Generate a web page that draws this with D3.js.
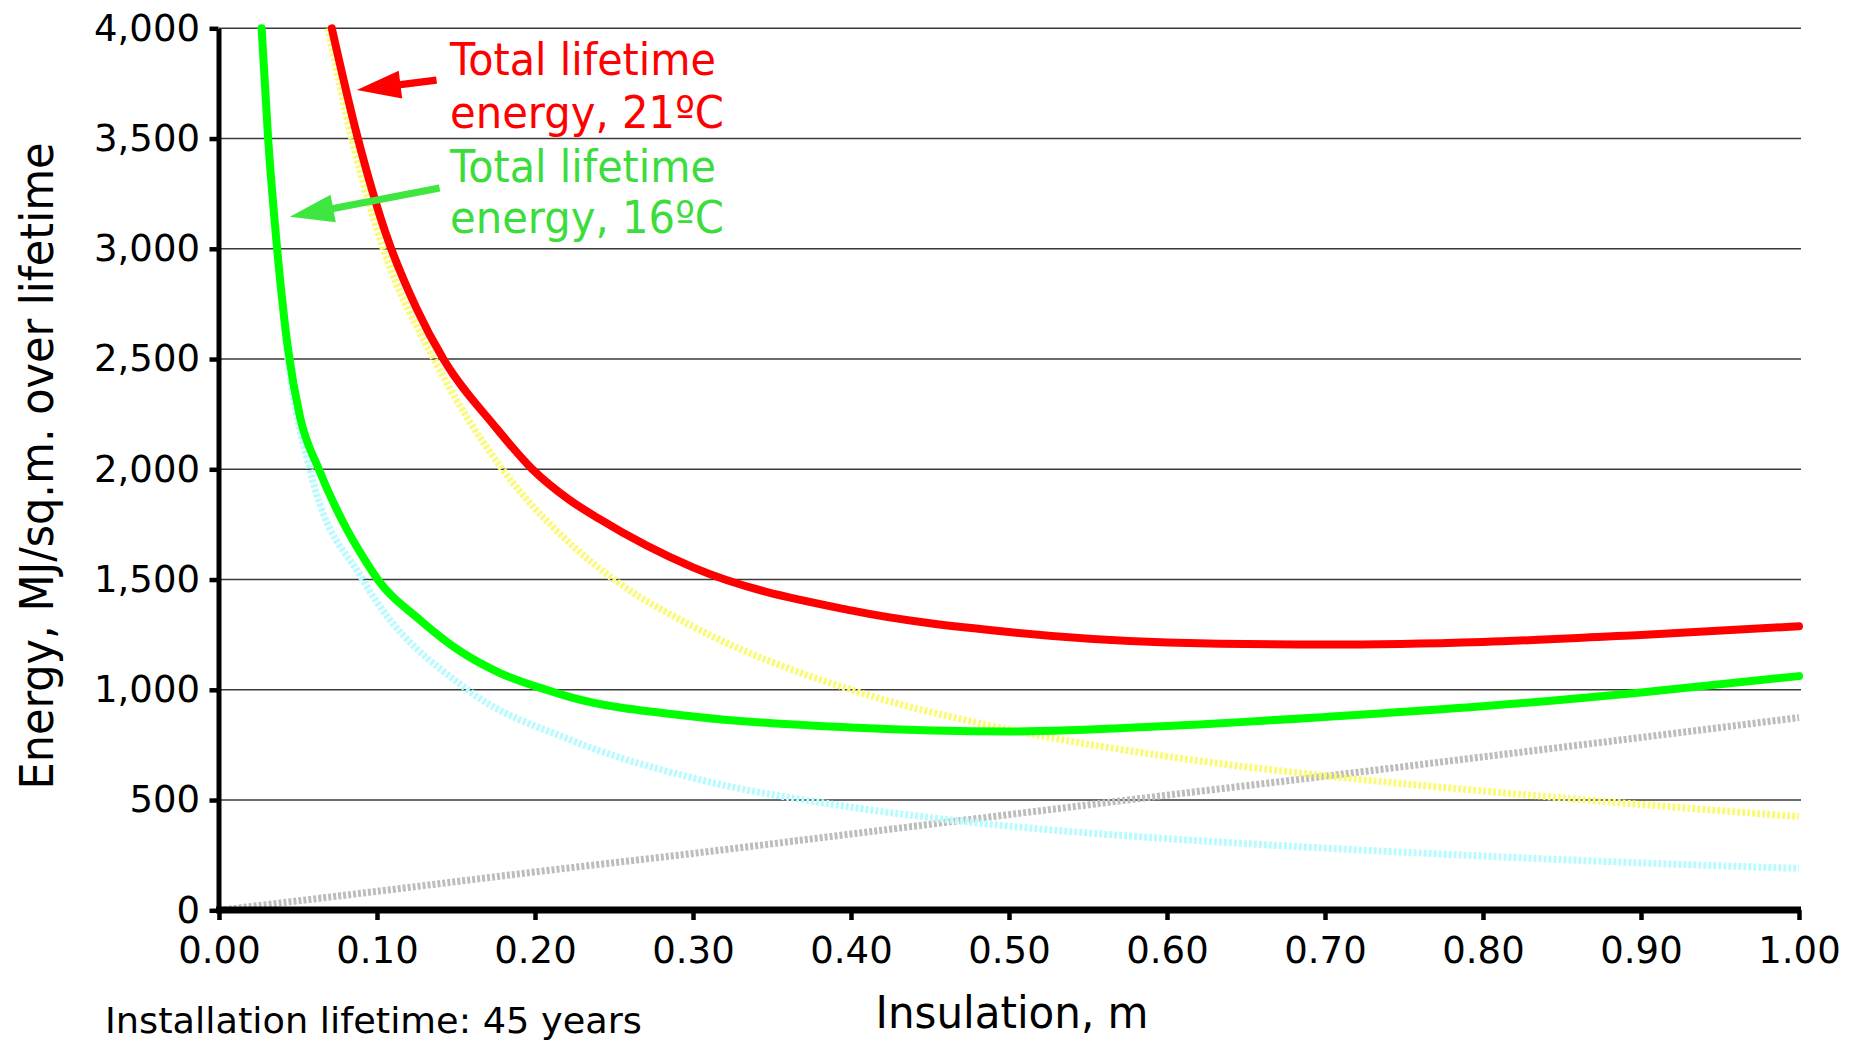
<!DOCTYPE html>
<html>
<head>
<meta charset="utf-8">
<title>Lifetime energy vs insulation thickness</title>
<style>
  body { margin: 0; padding: 0; background: #fff; }
  svg text { font-family: "DejaVu Sans", Verdana, sans-serif; }
</style>
</head>
<body>
<svg id="chart" width="1863" height="1042"></svg>
<script src="https://cdnjs.cloudflare.com/ajax/libs/d3/7.8.5/d3.min.js"></script>
<script>

// ticks
var xTickValues = [0, 0.1, 0.2, 0.3, 0.4, 0.5, 0.6, 0.7, 0.8, 0.9, 1.0];
var yTickValues = [0, 500, 1000, 1500, 2000, 2500, 3000, 3500, 4000];

// embodied energy of the insulation (grey dotted)
var grayX = [0, 0.1, 0.2, 0.3, 0.4, 0.5, 0.6, 0.7, 0.8, 0.9, 1.0];
var grayY = [0, 86, 174, 258, 346, 434, 522, 608, 696, 784, 874];

// heating energy at 16ºC (cyan dotted)
var cyanX = [0.0265, 0.031, 0.037, 0.044, 0.0575, 0.091, 0.1573, 0.2217, 0.3, 0.4, 0.5, 0.6, 0.7, 0.8, 0.9, 1.0];
var cyanY = [4000, 3475, 2970, 2480, 2000, 1500, 1000, 775, 600, 468, 382, 325, 282, 246, 215, 190];

// heating energy at 21ºC (yellow dotted)
var yellowX = [0.069, 0.084, 0.104, 0.136, 0.1794, 0.2217, 0.25, 0.3, 0.4, 0.5, 0.6, 0.7, 0.8, 0.9, 1.0];
var yellowY = [4000, 3500, 3000, 2500, 2000, 1667, 1500, 1287, 1000, 820, 698, 610, 541, 480, 425];

// total lifetime energy, 21ºC (red)
var redX = [0.0714, 0.0872, 0.106, 0.125, 0.142, 0.174, 0.1984, 0.2217, 0.2407, 0.3, 0.4, 0.5, 0.6, 0.7, 0.8, 0.9, 1.0];
var redY = [4000, 3520, 3060, 2730, 2500, 2200, 2000, 1862, 1775, 1555, 1360, 1262, 1215, 1205, 1217, 1249, 1288];

// total lifetime energy, 16ºC (green)
var greenX = [0.027, 0.0311, 0.0368, 0.0438, 0.0512, 0.0632, 0.0784, 0.0922, 0.1005, 0.127, 0.1543, 0.1775, 0.2071, 0.2217, 0.3, 0.4, 0.5, 0.6, 0.7, 0.8, 0.9, 1.0];
var greenY = [4000, 3500, 3000, 2540, 2240, 2000, 1762, 1590, 1500, 1318, 1167, 1077, 1000, 968, 879, 829, 811, 836, 877, 925, 988, 1062];

var svg = d3.select("#chart");

var x = d3.scaleLinear().domain([0, 1]).range([219, 1799]);
var y = d3.scaleLinear().domain([0, 4000]).range([910.3, 28.3]);

// horizontal grid
svg.append("g").selectAll("line")
    .data(yTickValues.filter(function(d) { return d > 0; }))
    .enter().append("line")
    .attr("x1", x(0)).attr("x2", x(1) + 2)
    .attr("y1", function(d) { return y(d); })
    .attr("y2", function(d) { return y(d); })
    .style("stroke", "#3a3a3a")
    .style("stroke-width", 1.6);

function zip(xs, ys) {
    return xs.map(function(v, i) { return [v, ys[i]]; });
}

var line = d3.line()
    .x(function(d) { return x(d[0]); })
    .y(function(d) { return y(d[1]); })
    .curve(d3.curveMonotoneX);

var series = [
    { pts: zip(grayX, grayY),     color: "#bdbdbd", width: 7, dash: "3,2" },
    { pts: zip(cyanX, cyanY),     color: "#b8fbff", width: 7, dash: "3,2" },
    { pts: zip(yellowX, yellowY), color: "#fafa7a", width: 7, dash: "3,2" },
    { pts: zip(redX, redY),       color: "#ff0000", width: 8, dash: null },
    { pts: zip(greenX, greenY),   color: "#00ff00", width: 8, dash: null }
];

svg.append("g").selectAll("path")
    .data(series)
    .enter().append("path")
    .attr("d", function(d) { return line(d.pts); })
    .style("fill", "none")
    .style("stroke", function(d) { return d.color; })
    .style("stroke-width", function(d) { return d.width; })
    .style("stroke-linecap", function(d) { return d.dash ? "butt" : "round"; })
    .style("stroke-dasharray", function(d) { return d.dash; });

// axes
var yAxis = d3.axisLeft(y)
    .tickValues(yTickValues)
    .tickFormat(d3.format(","))
    .tickSizeInner(9)
    .tickSizeOuter(0)
    .tickPadding(9.5);

var gy = svg.append("g")
    .attr("transform", "translate(218.5,0)")
    .call(yAxis);
gy.select(".domain").style("stroke", "#000").style("stroke-width", 5);
gy.selectAll(".tick line").style("stroke", "#000").style("stroke-width", 4.5);
gy.selectAll(".tick text")
    .style("font-size", "37px")
    .style("font-family", "'DejaVu Sans', Verdana, sans-serif")
    .style("fill", "#000");

var xAxis = d3.axisBottom(x)
    .tickValues(xTickValues)
    .tickFormat(d3.format(".2f"))
    .tickSizeInner(10)
    .tickSizeOuter(0)
    .tickPadding(16.5);

var gx = svg.append("g")
    .attr("transform", "translate(0,910)")
    .call(xAxis);
gx.select(".domain")
    .attr("d", "M216,0H1801")
    .style("stroke", "#000").style("stroke-width", 7);
gx.selectAll(".tick line").style("stroke", "#000").style("stroke-width", 4.5);
gx.selectAll(".tick text")
    .style("font-size", "37px")
    .style("font-family", "'DejaVu Sans', Verdana, sans-serif")
    .style("fill", "#000");

// axis titles
svg.append("text")
    .attr("transform", "translate(53,466) rotate(-90)")
    .attr("text-anchor", "middle")
    .attr("textLength", 647)
    .attr("lengthAdjust", "spacingAndGlyphs")
    .style("font-size", "46px")
    .text("Energy, MJ/sq.m. over lifetime");

svg.append("text")
    .attr("x", 1012).attr("y", 1028)
    .attr("text-anchor", "middle")
    .attr("textLength", 273)
    .attr("lengthAdjust", "spacingAndGlyphs")
    .style("font-size", "45px")
    .text("Insulation, m");

svg.append("text")
    .attr("x", 105).attr("y", 1033)
    .attr("textLength", 537)
    .attr("lengthAdjust", "spacingAndGlyphs")
    .style("font-size", "35px")
    .text("Installation lifetime: 45 years");

// annotations
function arrow(tail, tip, headLen, headHalf, shaftHalf) {
    var x0 = x(tail[0]), y0 = y(tail[1]), x1 = x(tip[0]), y1 = y(tip[1]);
    var dx = x1 - x0, dy = y1 - y0, len = Math.sqrt(dx * dx + dy * dy);
    var ux = dx / len, uy = dy / len, nx = -uy, ny = ux;
    var bx = x1 - ux * headLen, by = y1 - uy * headLen;
    var p = [
        [x0 + nx * shaftHalf, y0 + ny * shaftHalf],
        [bx + nx * shaftHalf, by + ny * shaftHalf],
        [bx + nx * headHalf, by + ny * headHalf],
        [x1, y1],
        [bx - nx * headHalf, by - ny * headHalf],
        [bx - nx * shaftHalf, by - ny * shaftHalf],
        [x0 - nx * shaftHalf, y0 - ny * shaftHalf]
    ];
    return "M" + p.map(function(q) { return q[0].toFixed(1) + "," + q[1].toFixed(1); }).join("L") + "Z";
}

var notes = [
    { lines: ["Total lifetime", "energy, 21ºC"], color: "#ff0000", arrowColor: "#ff0000",
      tail: [0.1377, 3765], tip: [0.0872, 3720], baselines: [75, 128] },
    { lines: ["Total lifetime", "energy, 16ºC"], color: "#3cdc3c", arrowColor: "#40e640",
      tail: [0.1396, 3276], tip: [0.0449, 3145], baselines: [182, 233] }
];

notes.forEach(function(n) {
    svg.append("path")
        .attr("d", arrow(n.tail, n.tip, 44, 14, 3.6))
        .style("fill", n.arrowColor);
    n.lines.forEach(function(t, i) {
        svg.append("text")
            .attr("x", 450).attr("y", n.baselines[i])
            .attr("textLength", i === 0 ? 266 : 274)
            .attr("lengthAdjust", "spacingAndGlyphs")
            .style("font-size", "45px")
            .style("fill", n.color)
            .text(t);
    });
});

</script>
</body>
</html>
